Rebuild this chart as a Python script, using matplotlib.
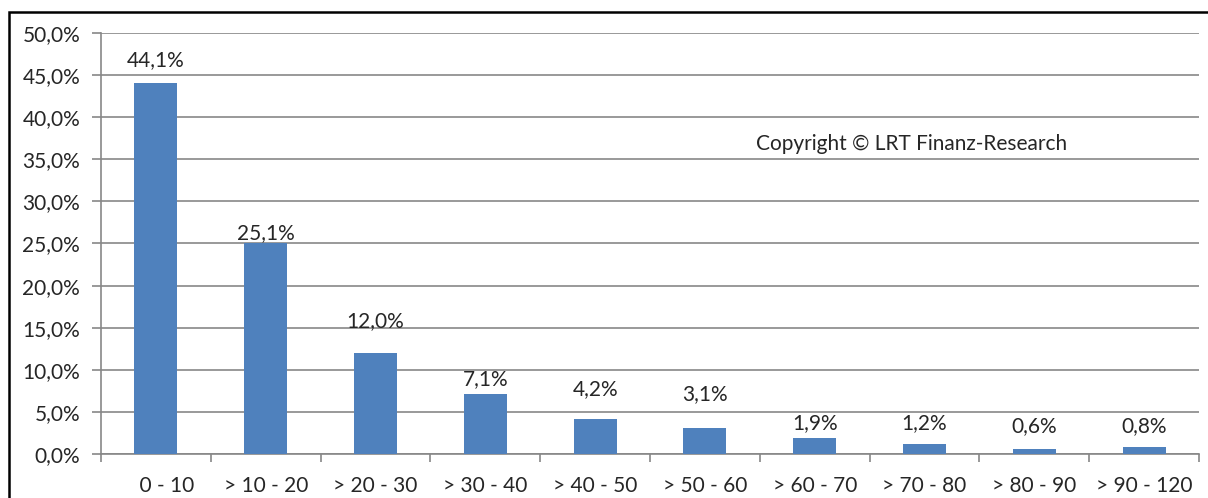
import matplotlib
matplotlib.use("Agg")
import matplotlib.pyplot as plt
from matplotlib.ticker import FuncFormatter, MultipleLocator
from matplotlib.patches import Rectangle

categories = ["    0 - 10", "> 10 - 20", "> 20 - 30", "> 30 - 40", "> 40 - 50",
              "> 50 - 60", "> 60 - 70", "> 70 - 80", "> 80 - 90", "> 90 - 120"]
values = [44.1, 25.1, 12.0, 7.1, 4.2, 3.1, 1.9, 1.2, 0.6, 0.8]
label_y = [46.8, 26.25, 15.8, 8.9, 7.7, 7.1, 3.7, 3.7, 3.3, 3.3]

plt.rcParams['font.family'] = ['Lato', 'DejaVu Sans']
text_color = "#262626"
grid_color = "#878787"
bar_color = "#4F81BD"
fs = 15

fig = plt.figure(figsize=(12.08, 4.98), dpi=100)
W, H = 1208, 498
ax = fig.add_axes([101 / W, 44 / H, (1199 - 101) / W, (454 - 33) / H])

x = list(range(len(categories)))
ax.bar(x, values, width=0.39, color=bar_color, zorder=3)
ax.set_xlim(-0.5, len(categories) - 0.5)
ax.set_ylim(0, 50)

ax.yaxis.set_major_locator(MultipleLocator(5))
ax.yaxis.set_major_formatter(FuncFormatter(lambda v, p: f"{v:.1f}%".replace(".", ",")))
ax.grid(axis="y", color=grid_color, linewidth=1.2, zorder=0)

ax.set_xticks([i - 0.5 for i in range(len(categories) + 1)])
ax.set_xticklabels([])
ax.set_xticks(x, minor=True)
ax.set_xticklabels(categories, minor=True)
ax.tick_params(axis="x", which="major", length=6, width=1.2, color=grid_color, direction="out")
ax.tick_params(axis="x", which="minor", length=0, pad=16, labelsize=fs, labelcolor=text_color)
ax.tick_params(axis="y", length=6.5, width=1.2, color=grid_color, pad=8.5,
               labelsize=fs, labelcolor=text_color)

for s in ["top", "right"]:
    ax.spines[s].set_visible(False)
for s in ["left", "bottom"]:
    ax.spines[s].set_color(grid_color)
    ax.spines[s].set_linewidth(1.2)

for xi, v, ly in zip(x, values, label_y):
    ax.text(xi, ly, f"{v:.1f}%".replace(".", ","), ha="center", va="center",
            fontsize=fs, color=text_color, zorder=4)

fig.text(756 / W, 1 - 144 / H, "Copyright © LRT Finanz-Research", ha="left", va="center",
         fontsize=fs, color=text_color)

fig.patches.append(Rectangle((9 / W, -0.1), 1.2, 1 - 12 / H + 0.1, transform=fig.transFigure,
                             fill=False, edgecolor="black", linewidth=1.8))

fig.savefig("out.png", dpi=100)
